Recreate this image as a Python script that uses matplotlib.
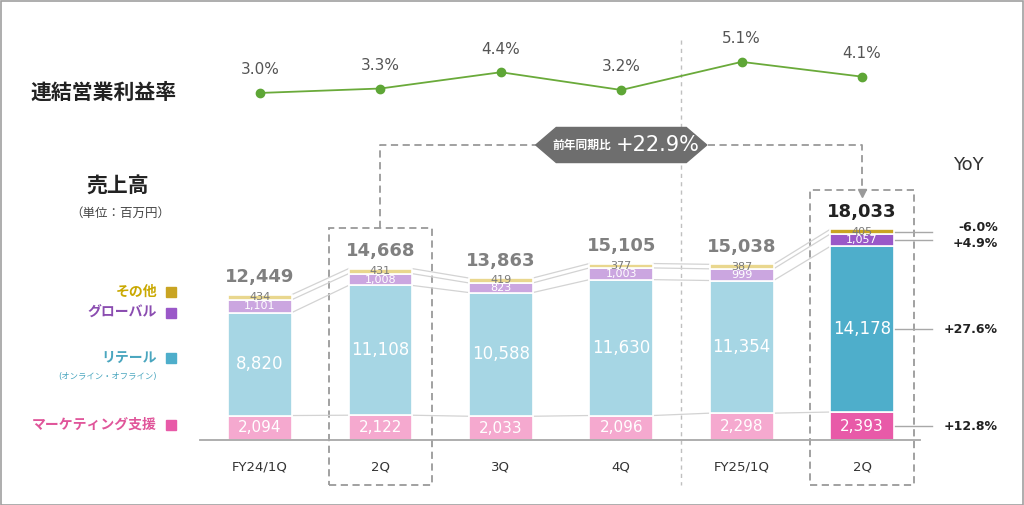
import numpy as np
import matplotlib
matplotlib.use('Agg')
import matplotlib.pyplot as plt
from matplotlib.patches import Rectangle, Polygon

plt.rcParams['font.family'] = ['DejaVu Sans', 'Noto Sans CJK JP']

# data
quarters = ['FY24/1Q', '2Q', '3Q', '4Q', 'FY25/1Q', '2Q']
marketing = [2094, 2122, 2033, 2096, 2298, 2393]
retail = [8820, 11108, 10588, 11630, 11354, 14178]
global_ = [1101, 1008, 823, 1003, 999, 1057]
other = [434, 431, 419, 377, 387, 405]
totals = [12449, 14668, 13863, 15105, 15038, 18033]
op_margin = [3.0, 3.3, 4.4, 3.2, 5.1, 4.1]
yoy_labels = ['+12.8%', '+27.6%', '+4.9%', '-6.0%']
yoy_total = '+22.9%'

segments = [marketing, retail, global_, other]
light_cols = ['#f5a9cf', '#a6d6e4', '#cba6e0', '#e9d78e']
dark_cols = ['#e85aa8', '#4eaecb', '#9a58c8', '#c9a422']
legend_names = ['マーケティング支援', 'リテール', 'グローバル', 'その他']
legend_text_cols = ['#e0559a', '#4aa6bf', '#8a4cb0', '#c9a800']

W, H = 1024, 505
fig = plt.figure(figsize=(W / 100, H / 100), dpi=100)
ax = fig.add_axes([0, 0, 1, 1])
ax.set_xlim(-2.16, 6.345)
ax.set_ylim(-5564, 37664)
ax.axis('off')

def py(p):
    # pixel-from-top -> bar data units
    return (H - p) * 85.6 - 5564

x = np.arange(len(quarters))
bw = 0.53
bottoms = np.zeros(len(x))
tops = []
mids = []
seg_font = [11, 12, 8, 8]
for k, seg in enumerate(segments):
    seg = np.array(seg, dtype=float)
    cols = [light_cols[k]] * (len(x) - 1) + [dark_cols[k]]
    ax.bar(x, seg, bw, bottom=bottoms, color=cols, edgecolor='white', linewidth=1.2, zorder=3)
    m = bottoms + seg / 2
    mids.append(m)
    for i in range(len(x)):
        c = '#7a7a7a' if k == 3 else 'white'
        ax.text(x[i], m[i], f'{int(seg[i]):,}', ha='center', va='center', color=c,
                fontsize=seg_font[k], zorder=5)
    bottoms = bottoms + seg
    tops.append(bottoms.copy())

# connecting lines between bars
for k in range(4):
    for i in range(len(x) - 1):
        ax.plot([x[i] + bw / 2, x[i + 1] - bw / 2], [tops[k][i], tops[k][i + 1]],
                color='#d3d3d3', lw=0.9, zorder=2)

# totals
for i, t in enumerate(totals):
    c = '#222222' if i == len(totals) - 1 else '#808080'
    ax.text(x[i], t + 700, f'{t:,}', ha='center', va='bottom', color=c, fontsize=13,
            fontweight='bold', zorder=5)

# baseline
ax.plot([-0.5, 5.48], [0, 0], color='#a8a8a8', lw=1.3, zorder=4)

# x labels
for i, q in enumerate(quarters):
    ax.text(x[i], py(467), q, ha='center', va='center', color='#333333', fontsize=9.5)

# vertical divider
ax.plot([3.5, 3.5], [py(40), py(485)], color='#c0c0c0', lw=1, ls=(0, (3, 3)), zorder=1)

# dashed boxes
for xi, top_px in [(1, 228), (5, 190)]:
    ax.add_patch(Rectangle((xi - 0.43, py(485)), 0.86, py(top_px) - py(485), fill=False,
                           edgecolor='#9a9a9a', lw=1.3, ls=(0, (4, 2.5)), zorder=1))

# connector with arrow
yc = py(145)
ax.plot([1, 1, 5, 5], [py(228), yc, yc, py(196)], color='#9a9a9a', lw=1.3, ls=(0, (4, 2.5)), zorder=1)
ax.plot([5], [py(193)], marker='v', color='#9a9a9a', markersize=6, zorder=2)

# badge
bx, hw, hh, tip = 3.0, 0.71, 1500, 0.17
ax.add_patch(Polygon([[bx - hw, yc], [bx - hw + tip, yc + hh], [bx + hw - tip, yc + hh],
                      [bx + hw, yc], [bx + hw - tip, yc - hh], [bx - hw + tip, yc - hh]],
                     closed=True, color='#6e6e6e', zorder=6))
ax.text(bx - 0.33, yc, '前年同期比', ha='center', va='center', color='white', fontsize=8.5,
        fontweight='bold', zorder=7)
ax.text(bx + 0.3, yc, yoy_total, ha='center', va='center', color='white', fontsize=15, zorder=7)

# YoY lines & labels for latest bar
last = len(x) - 1
label_shift = [0, 0, -250, 350]
for k in range(4):
    mid = mids[k][last]
    ax.plot([x[last] + bw / 2, 5.58], [mid, mid], color='#a8a8a8', lw=1, zorder=2)
    ax.text(6.13, mid + label_shift[k], yoy_labels[k], ha='right', va='center', color='#222222',
            fontsize=9, fontweight='bold')
ax.text(5.88, py(165), 'YoY', ha='center', va='center', color='#333333', fontsize=13)

# operating margin line
ax2 = ax.twinx()
ax2.set_ylim(-24.84, 9.28)
ax2.axis('off')
ax2.plot(x, op_margin, color='#6aaa3a', lw=1.3, marker='o', markersize=6,
         markerfacecolor='#5ea636', markeredgecolor='#5ea636')
for i, v in enumerate(op_margin):
    ax2.text(x[i], v + 1.05, f'{v:.1f}%', ha='center', va='bottom', color='#555555', fontsize=11)

# left titles
fig.text(30 / W, 1 - 93 / H, '連結営業利益率', ha='left', va='center', fontsize=15, fontweight='bold', color='#222222')
fig.text(118 / W, 1 - 187 / H, '売上高', ha='center', va='center', fontsize=15, fontweight='bold', color='#222222')
fig.text(120 / W, 1 - 213 / H, '（単位：百万円）', ha='center', va='center', fontsize=9, color='#444444')

# legend
leg_y = [425, 358, 313, 292]
for k in range(4):
    fig.text(157 / W, 1 - leg_y[k] / H, legend_names[k], ha='right', va='center', fontsize=10,
             fontweight='bold', color=legend_text_cols[k])
    fig.patches.append(Rectangle((166 / W, 1 - (leg_y[k] + 5) / H), 10 / W, 10 / H,
                                 transform=fig.transFigure, color=dark_cols[k], figure=fig))
fig.text(157 / W, 1 - 377 / H, '(オンライン・オフライン)', ha='right', va='center', fontsize=6, color='#4aa6bf')

# frame
fig.patches.append(Rectangle((0.5 / W, 0.5 / H), 1 - 1.5 / W, 1 - 1.5 / H, transform=fig.transFigure,
                             fill=False, edgecolor='#a0a0a0', lw=1.2, figure=fig))

fig.savefig('out.png', dpi=100)
